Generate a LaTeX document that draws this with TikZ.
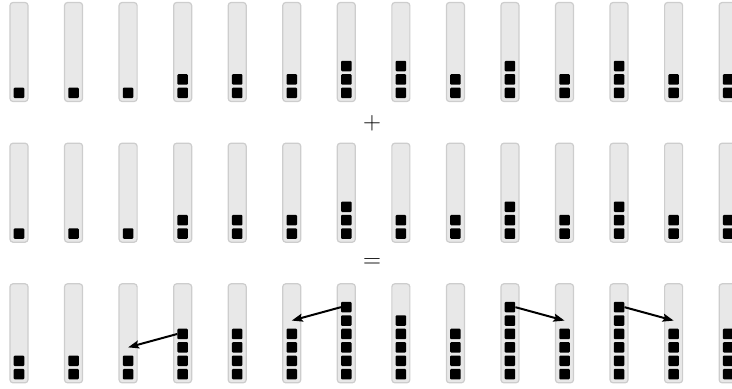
\documentclass[tikz,border=0pt]{standalone}
\usetikzlibrary{arrows.meta,calc}
\definecolor{barfill}{HTML}{E8E8E8}
\definecolor{barline}{HTML}{CDCDCD}
\tikzset{
  bar/.style={draw=barline, fill=barfill, line width=1.2pt, rounded corners=3pt,
    minimum width=18pt, minimum height=99pt, inner sep=0pt},
  block/.style={fill=black, rounded corners=1pt, minimum width=10.5pt,
    minimum height=10.5pt, inner sep=0pt},
  move/.style={-{Stealth[length=11pt,width=8pt,inset=2pt]}, line width=2pt},
  sign/.style={font=\fontsize{25}{28}\selectfont, inner sep=0pt}
}
\begin{document}
\begin{tikzpicture}[scale=0.3514]
    \useasboundingbox (0,0) rectangle (73.2,-38.9);
    \foreach \n [count=\i] in {1,1,1,2,2,2,3,3,2,3,2,3,2,2} {
      \node [bar] (a\i) at ({1.9+(\i-1)*5.455},-5.2) {};
      \foreach \k in {1,...,\n}
        \node [block] (a\i-\k) at ($(a\i.south)+(0,{0.925+(\k-1)*1.34})$) {};
    }
    \node [sign] (plus) at (37.2,-12.3) {$+$};
    \foreach \n [count=\i] in {1,1,1,2,2,2,3,2,2,3,2,3,2,2} {
      \node [bar] (b\i) at ({1.9+(\i-1)*5.455},-19.27) {};
      \foreach \k in {1,...,\n}
        \node [block] (b\i-\k) at ($(b\i.south)+(0,{0.925+(\k-1)*1.34})$) {};
    }
    \node [sign] (equals) at (37.2,-26.3) {$=$};
    \foreach \n [count=\i] in {2,2,2,4,4,4,6,5,4,6,4,6,4,4} {
      \node [bar] (c\i) at ({1.9+(\i-1)*5.455},-33.33) {};
      \foreach \k in {1,...,\n}
        \node [block] (c\i-\k) at ($(c\i.south)+(0,{0.925+(\k-1)*1.34})$) {};
    }
    \coordinate (c3-3) at ($(c3.south)+(0,{0.925+2*1.34})$);
    \coordinate (c6-5) at ($(c6.south)+(0,{0.925+4*1.34})$);
    \coordinate (c11-5) at ($(c11.south)+(0,{0.925+4*1.34})$);
    \coordinate (c13-5) at ($(c13.south)+(0,{0.925+4*1.34})$);
    \draw [move] (c4-4.west) -- (c3-3);
    \draw [move] (c7-6.west) -- (c6-5);
    \draw [move] (c10-6.east) -- (c11-5);
    \draw [move] (c12-6.east) -- (c13-5);
\end{tikzpicture}
\end{document}
